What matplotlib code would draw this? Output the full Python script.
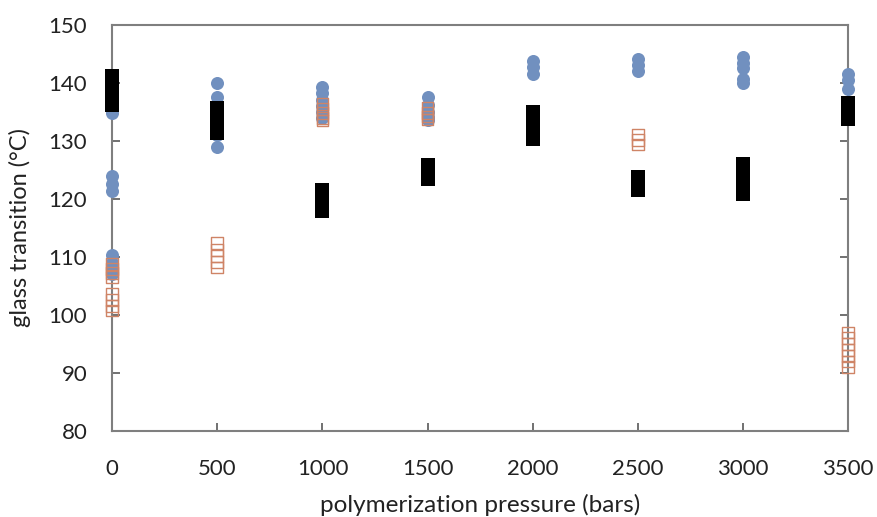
import matplotlib
matplotlib.use('Agg')
import matplotlib.pyplot as plt

# glass transition readings at each polymerization pressure
pressure = [0, 500, 1000, 1500, 2000, 2500, 3000, 3500]

blue_vals = [
    [134.8, 136.5, 124.0, 122.5, 121.3, 110.3, 109.0, 108.0, 107.0],
    [140.0, 137.6, 135.0, 133.0, 131.0, 129.0],
    [139.3, 138.3, 137.0, 136.0, 135.0, 134.0],
    [137.5, 136.2, 135.0, 134.2, 133.6],
    [143.8, 142.7, 141.6],
    [144.1, 143.0, 142.0],
    [144.5, 143.5, 142.5, 140.6, 139.9],
    [141.6, 140.5, 139.0],
]

orange_vals = [
    [108.8, 108.0, 107.3, 106.6, 103.6, 102.6, 101.6, 100.8],
    [112.4, 111.2, 110.2, 109.2, 108.2],
    [136.3, 135.5, 134.8, 134.0, 133.5],
    [135.7, 134.8, 134.2, 133.7],
    [],
    [131.1, 130.2, 129.4],
    [],
    [97.0, 96.0, 95.0, 94.0, 93.0, 92.0, 91.0],
]

black_vals = [
    [141.2, 139.6, 138.0, 136.2],
    [135.6, 134.0, 132.6, 131.3],
    [121.6, 119.8, 117.9],
    [125.8, 124.6, 123.4],
    [135.0, 133.4, 131.8, 130.3],
    [123.8, 122.6, 121.5],
    [126.1, 124.4, 122.6, 120.9],
    [136.6, 135.2, 133.8],
]


def flatten(vals):
    xs, ys = [], []
    for p, v in zip(pressure, vals):
        xs += [p] * len(v)
        ys += v
    return xs, ys


plt.rcParams['font.family'] = ['Lato', 'DejaVu Sans']

fig = plt.figure(figsize=(8.77, 5.17), dpi=100)
ax = fig.add_axes([0.128, 0.166, 0.839, 0.786])

bx, by = flatten(blue_vals)
ax.scatter(bx, by, s=88, marker='o', color='#7190BF', linewidths=0, zorder=3, clip_on=False)
ox, oy = flatten(orange_vals)
ax.scatter(ox, oy, s=72, marker='s', facecolors='none', edgecolors='#CF8466', linewidths=1.0, zorder=4, clip_on=False)
kx, ky = flatten(black_vals)
ax.scatter(kx, ky, s=100, marker='s', color='black', linewidths=0, zorder=5, clip_on=False)

ax.set_xlim(0, 3500)
ax.set_ylim(80, 150)
ax.set_xticks(range(0, 3501, 500))
ax.set_yticks(range(80, 151, 10))

for s in ax.spines.values():
    s.set_color('#7f7f7f')
    s.set_linewidth(1.5)

ax.tick_params(axis='x', direction='in', length=6, width=1.2, color='#595959', pad=20,
               labelsize=16, labelcolor='#222222')
ax.tick_params(axis='y', direction='in', length=6, width=1.2, color='#595959', pad=18,
               labelsize=16, labelcolor='#222222', right=True)

ax.set_xlabel('polymerization pressure (bars)', fontsize=17.5, labelpad=11, color='#222222')
ax.set_ylabel('glass transition (°C)', fontsize=17, labelpad=13, color='#222222')

fig.savefig('out.png', dpi=100)
